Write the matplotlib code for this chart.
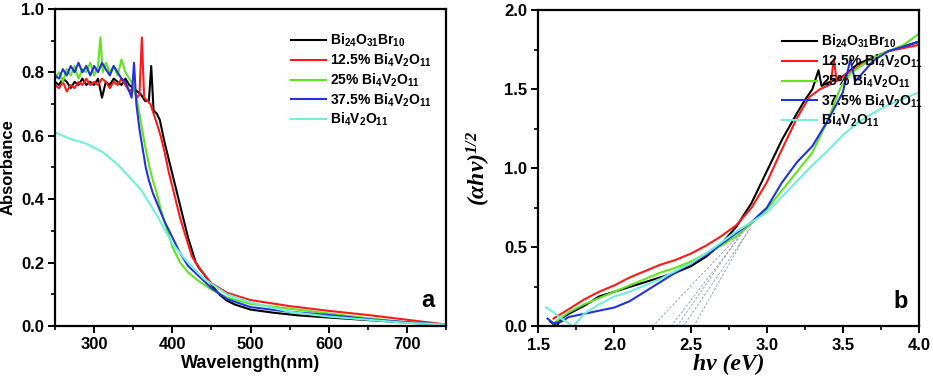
import numpy as np
import matplotlib
matplotlib.use('Agg')
import matplotlib.pyplot as plt
from matplotlib.ticker import MultipleLocator

plt.rcParams['font.family'] = ['Liberation Sans', 'DejaVu Sans']
plt.rcParams['font.weight'] = 'bold'
plt.rcParams['mathtext.default'] = 'regular'

LABELS = [r'Bi$_{24}$O$_{31}$Br$_{10}$', r'12.5% Bi$_4$V$_2$O$_{11}$',
          r'25% Bi$_4$V$_2$O$_{11}$', r'37.5% Bi$_4$V$_2$O$_{11}$',
          r'Bi$_4$V$_2$O$_{11}$']
COLORS = ['#000000', '#ff1a1a', '#5fe61e', '#2233dd', '#70f0d8']

# ---- panel a: absorbance vs wavelength ----
WL_BLACK = [250, 255, 260, 265, 270, 275, 280, 285, 290, 295, 300, 305, 310, 315,
            320, 325, 330, 335, 340, 345, 350, 355, 360, 365, 370, 373, 376, 380,
            384, 390, 395, 400, 405, 410, 415, 420, 425, 430, 435, 440, 450, 460,
            470, 480, 500, 530, 560, 600, 650, 700, 750]
AB_BLACK = [0.77, 0.76, 0.78, 0.77, 0.75, 0.77, 0.76, 0.78, 0.76, 0.77, 0.76, 0.78,
            0.72, 0.77, 0.76, 0.78, 0.77, 0.76, 0.78, 0.76, 0.75, 0.74, 0.73, 0.71,
            0.71, 0.82, 0.68, 0.67, 0.65, 0.58, 0.53, 0.48, 0.43, 0.38, 0.33, 0.28,
            0.24, 0.20, 0.18, 0.165, 0.13, 0.10, 0.08, 0.068, 0.052, 0.042, 0.034,
            0.027, 0.019, 0.011, 0.004]

WL_RED = [250, 255, 260, 265, 270, 275, 280, 285, 290, 295, 300, 305, 310, 315,
          320, 325, 330, 335, 340, 345, 350, 355, 358, 361, 364, 368, 372, 376,
          380, 385, 390, 395, 400, 405, 410, 415, 420, 425, 430, 440, 450, 470,
          500, 550, 600, 650, 700, 750]
AB_RED = [0.76, 0.75, 0.77, 0.74, 0.76, 0.75, 0.77, 0.76, 0.78, 0.76, 0.77, 0.76,
          0.78, 0.77, 0.75, 0.77, 0.76, 0.78, 0.76, 0.74, 0.75, 0.72, 0.73, 0.91,
          0.72, 0.71, 0.70, 0.67, 0.64, 0.60, 0.55, 0.49, 0.44, 0.39, 0.34, 0.30,
          0.26, 0.22, 0.20, 0.165, 0.135, 0.105, 0.082, 0.063, 0.048, 0.035,
          0.02, 0.005]

WL_GREEN = [250, 255, 260, 265, 270, 275, 280, 285, 290, 295, 300, 305, 308, 311,
            315, 320, 325, 330, 335, 340, 345, 350, 355, 360, 365, 370, 375, 380,
            385, 390, 395, 400, 410, 420, 432, 450, 470, 500, 550, 600, 650, 700,
            750]
AB_GREEN = [0.78, 0.80, 0.77, 0.81, 0.79, 0.82, 0.78, 0.81, 0.80, 0.83, 0.79, 0.82,
            0.91, 0.80, 0.83, 0.80, 0.82, 0.79, 0.84, 0.80, 0.78, 0.76, 0.71, 0.64,
            0.57, 0.51, 0.46, 0.42, 0.37, 0.33, 0.29, 0.25, 0.20, 0.17, 0.145,
            0.115, 0.09, 0.07, 0.055, 0.04, 0.025, 0.012, 0.005]

WL_BLUE = [250, 255, 260, 265, 270, 275, 280, 285, 290, 295, 300, 305, 310, 315,
           320, 325, 330, 335, 340, 345, 348, 351, 354, 358, 362, 366, 370, 375,
           380, 390, 400, 410, 420, 435, 450, 470, 500, 550, 600, 650, 700, 750]
AB_BLUE = [0.79, 0.78, 0.81, 0.79, 0.82, 0.80, 0.83, 0.80, 0.82, 0.79, 0.82, 0.80,
           0.83, 0.81, 0.79, 0.82, 0.80, 0.78, 0.77, 0.74, 0.72, 0.83, 0.70, 0.62,
           0.56, 0.50, 0.46, 0.42, 0.39, 0.33, 0.28, 0.23, 0.19, 0.155, 0.12,
           0.085, 0.06, 0.045, 0.035, 0.022, 0.012, 0.005]

WL_CYAN = [250, 260, 270, 290, 310, 330, 345, 360, 380, 400, 420, 440, 470, 500,
           550, 600, 650, 700, 750]
AB_CYAN = [0.61, 0.60, 0.59, 0.575, 0.55, 0.51, 0.47, 0.43, 0.35, 0.26, 0.20,
           0.15, 0.10, 0.075, 0.045, 0.03, 0.02, 0.01, 0.005]

# ---- panel b: Tauc plot ----
EV_BLACK = [1.58, 1.62, 1.65, 1.7, 1.8, 1.9, 2.0, 2.1, 2.2, 2.3, 2.4, 2.5, 2.6,
            2.7, 2.8, 2.9, 3.0, 3.1, 3.2, 3.25, 3.3, 3.34, 3.36, 3.4, 3.5, 3.6,
            3.7, 3.8, 3.9, 4.0]
TA_BLACK = [0.03, 0.0, 0.05, 0.08, 0.13, 0.19, 0.22, 0.25, 0.28, 0.31, 0.34, 0.38,
            0.44, 0.52, 0.63, 0.78, 0.98, 1.18, 1.35, 1.43, 1.50, 1.62, 1.52, 1.54,
            1.58, 1.66, 1.70, 1.74, 1.77, 1.80]

EV_RED = [1.6, 1.7, 1.8, 1.9, 2.0, 2.1, 2.2, 2.3, 2.4, 2.5, 2.6, 2.7, 2.8, 2.9,
          3.0, 3.1, 3.2, 3.28, 3.35, 3.42, 3.44, 3.46, 3.53, 3.6, 3.7, 3.8, 3.9,
          4.0]
TA_RED = [0.05, 0.11, 0.17, 0.22, 0.26, 0.31, 0.35, 0.39, 0.42, 0.46, 0.51, 0.57,
          0.64, 0.75, 0.91, 1.12, 1.32, 1.45, 1.50, 1.53, 1.69, 1.55, 1.60, 1.64,
          1.70, 1.74, 1.76, 1.78]

EV_GREEN = [1.6, 1.7, 1.8, 1.9, 2.0, 2.1, 2.2, 2.3, 2.4, 2.5, 2.6, 2.7, 2.8, 2.9,
            3.0, 3.1, 3.2, 3.3, 3.4, 3.48, 3.55, 3.61, 3.7, 3.8, 3.9, 4.0]
TA_GREEN = [0.02, 0.09, 0.14, 0.18, 0.22, 0.26, 0.30, 0.34, 0.37, 0.41, 0.46, 0.51,
            0.57, 0.65, 0.74, 0.86, 0.98, 1.10, 1.30, 1.50, 1.60, 1.64, 1.70, 1.74,
            1.78, 1.85]

EV_BLUE = [1.56, 1.6, 1.65, 1.7, 1.8, 1.9, 2.0, 2.1, 2.2, 2.3, 2.4, 2.5, 2.6, 2.7,
           2.8, 2.9, 3.0, 3.1, 3.2, 3.3, 3.4, 3.5, 3.55, 3.58, 3.61, 3.7, 3.8, 3.9,
           4.0]
TA_BLUE = [0.05, 0.02, 0.03, 0.06, 0.08, 0.10, 0.12, 0.16, 0.22, 0.28, 0.34, 0.40,
           0.45, 0.52, 0.59, 0.66, 0.75, 0.91, 1.04, 1.14, 1.30, 1.48, 1.69, 1.55,
           1.58, 1.68, 1.74, 1.77, 1.80]

EV_CYAN = [1.55, 1.6, 1.65, 1.7, 1.73, 1.8, 1.9, 2.0, 2.1, 2.2, 2.3, 2.4, 2.5, 2.6,
           2.7, 2.8, 2.9, 3.0, 3.1, 3.2, 3.3, 3.4, 3.5, 3.6, 3.7, 3.8, 3.9, 4.0]
TA_CYAN = [0.12, 0.09, 0.05, 0.02, 0.0, 0.08, 0.14, 0.19, 0.22, 0.26, 0.30, 0.35,
           0.40, 0.46, 0.53, 0.60, 0.66, 0.72, 0.82, 0.92, 1.02, 1.11, 1.21, 1.29,
           1.35, 1.40, 1.44, 1.48]

# band-gap extrapolation lines: x-intercept and upper tangent point
GAP_EV = [2.25, 2.37, 2.41, 2.45, 2.52]
TAN_EV = [2.86, 2.88, 2.84, 2.90, 2.88]
TAN_Y = [0.62, 0.64, 0.60, 0.63, 0.61]

fig = plt.figure(figsize=(9.33, 3.85), dpi=100)
ax1 = fig.add_axes([0.059, 0.153, 0.419, 0.824])
ax2 = fig.add_axes([0.577, 0.152, 0.408, 0.822])

left_data = [(WL_BLACK, AB_BLACK), (WL_RED, AB_RED), (WL_GREEN, AB_GREEN),
             (WL_BLUE, AB_BLUE), (WL_CYAN, AB_CYAN)]
right_data = [(EV_BLACK, TA_BLACK), (EV_RED, TA_RED), (EV_GREEN, TA_GREEN),
              (EV_BLUE, TA_BLUE), (EV_CYAN, TA_CYAN)]

for (xs, ys), col, lab in zip(left_data, COLORS, LABELS):
    ax1.plot(xs, ys, color=col, lw=1.5, label=lab)
for (xs, ys), col, lab in zip(right_data, COLORS, LABELS):
    ax2.plot(xs, ys, color=col, lw=1.5, label=lab)
for g, tx, ty in zip(GAP_EV, TAN_EV, TAN_Y):
    ax2.plot([g, tx], [0, ty], color='#8899aa', lw=0.6, ls=(0, (3, 2)))

ax1.set_xlim(250, 750)
ax1.set_ylim(0, 1.0)
ax1.xaxis.set_major_locator(MultipleLocator(100))
ax1.xaxis.set_minor_locator(MultipleLocator(50))
ax1.yaxis.set_major_locator(MultipleLocator(0.2))
ax1.yaxis.set_minor_locator(MultipleLocator(0.1))
ax1.set_xlabel('Wavelength(nm)', fontsize=13, fontweight='bold', labelpad=2)
ax1.set_ylabel('Absorbance', fontsize=12, fontweight='bold', labelpad=4)
ax1.text(0.97, 0.08, 'a', transform=ax1.transAxes, fontsize=17,
         fontweight='bold', ha='right', va='center')

ax2.set_xlim(1.5, 4.0)
ax2.set_ylim(0, 2.0)
ax2.xaxis.set_major_locator(MultipleLocator(0.5))
ax2.xaxis.set_minor_locator(MultipleLocator(0.25))
ax2.yaxis.set_major_locator(MultipleLocator(0.5))
ax2.yaxis.set_minor_locator(MultipleLocator(0.25))
serif = dict(family=['Liberation Serif', 'DejaVu Serif'], weight='bold',
             style='italic', size=17)
ax2.set_xlabel('hν (eV)', labelpad=1, **serif)
ax2.set_ylabel('(αhν)$^{1/2}$', labelpad=8, **serif)
ax2.text(0.97, 0.08, 'b', transform=ax2.transAxes, fontsize=17,
         fontweight='bold', ha='right', va='center')

for ax, lx in ((ax1, 0.59), (ax2, 0.625)):
    for sp in ax.spines.values():
        sp.set_linewidth(1.6)
    ax.tick_params(which='major', direction='out', length=5, width=1.4,
                   labelsize=12, pad=3)
    ax.tick_params(which='minor', direction='out', length=3, width=1.2)
    for lbl in ax.get_xticklabels() + ax.get_yticklabels():
        lbl.set_fontweight('bold')
    ax.yaxis.set_major_formatter(matplotlib.ticker.FormatStrFormatter('%.1f'))
    leg = ax.legend(loc='upper left', bbox_to_anchor=(lx, 0.945), frameon=False,
                    fontsize=10, handlelength=2.5, handletextpad=0.3,
                    labelspacing=0.17, borderaxespad=0)
    for t in leg.get_texts():
        t.set_fontweight('bold')

ax1.xaxis.set_major_formatter(matplotlib.ticker.FormatStrFormatter('%d'))
ax2.xaxis.set_major_formatter(matplotlib.ticker.FormatStrFormatter('%.1f'))

fig.savefig('out.png', dpi=100)
